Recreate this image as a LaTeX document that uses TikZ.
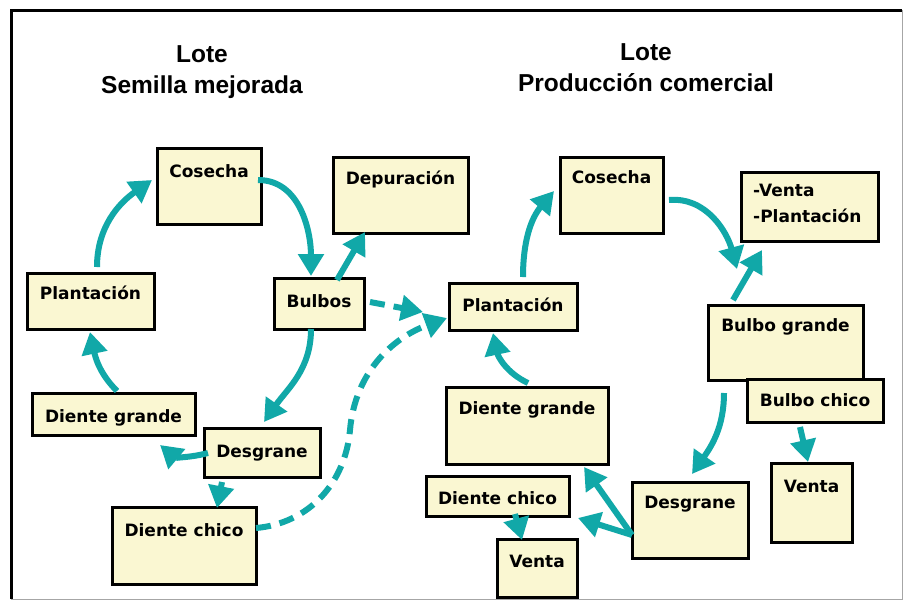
\documentclass[tikz,border=0pt]{standalone}
\usepackage{fontspec}
\setmainfont{DejaVu Sans}
\newfontfamily\titlefont{Liberation Sans}
\usetikzlibrary{arrows.meta,calc}
\definecolor{tealarrow}{RGB}{17,168,168}
\definecolor{boxfill}{RGB}{250,247,210}
\begin{document}
\begin{tikzpicture}[x=1pt,y=-1pt,
  box/.style={draw=black, line width=3pt, fill=boxfill, rectangle, anchor=north west, inner sep=0pt, outer sep=0pt},
  lbl/.style={font=\fontsize{17}{20}\selectfont\bfseries, anchor=base, inner sep=0pt},
  lblw/.style={lbl, anchor=base west},
  ttl/.style={font=\titlefont\fontsize{24.5}{28}\selectfont\bfseries, anchor=base, inner sep=0pt},
  arr/.style={draw=tealarrow, line width=6pt, -{Triangle[length=22pt,width=25pt]}},
  darr/.style={arr, dash pattern=on 15pt off 9pt},
]
\useasboundingbox (0,0) rectangle (903,600);
\fill[white] (0,0) rectangle (903,600);
% frame
\draw[line width=3pt] (11,599) -- (11,10) -- (902,10);
\draw[black!35, line width=1pt] (902,10) -- (902,599) -- (11,599);

% titles
\node[ttl] (t1a) at (202,62) {Lote};
\node[ttl] (t1b) at (202,93) {Semilla mejorada};
\node[ttl] (t2a) at (646,60) {Lote};
\node[ttl] (t2b) at (646,91) {Producción comercial};

% left boxes
\node[box, minimum width=104pt, minimum height=76pt] (cosL) at (157,148) {};
\node[box, minimum width=135pt, minimum height=76pt] (dep) at (333,157) {};
\node[box, minimum width=127pt, minimum height=56pt] (plL) at (27,273) {};
\node[box, minimum width=90pt, minimum height=51pt] (bulbos) at (274,278) {};
\node[box, minimum width=163pt, minimum height=42pt] (dgL) at (32,393) {};
\node[box, minimum width=116pt, minimum height=49pt] (desL) at (204,428) {};
\node[box, minimum width=144pt, minimum height=77pt] (dchL) at (112,507) {};

% right boxes
\node[box, minimum width=103pt, minimum height=76pt] (cosR) at (560,157) {};
\node[box, minimum width=137pt, minimum height=69pt] (vp) at (741,172) {};
\node[box, minimum width=128pt, minimum height=47pt] (plR) at (449,283) {};
\node[box, minimum width=155pt, minimum height=75pt] (bg) at (708,305) {};
\node[box, minimum width=136pt, minimum height=43pt] (bch) at (747,379) {};
\node[box, minimum width=162pt, minimum height=77pt] (dgR) at (446,387) {};
\node[box, minimum width=81pt, minimum height=79pt] (vR) at (771,463) {};
\node[box, minimum width=143pt, minimum height=40pt] (dchR) at (426,476) {};
\node[box, minimum width=116pt, minimum height=76pt] (desR) at (632,482) {};
\node[box, minimum width=80pt, minimum height=58pt] (vB) at (497,539) {};

% labels
\node[lbl] (cosLt) at ($(cosL.north)+(0,29)$) {Cosecha};
\node[lbl] (dept) at ($(dep.north)+(0,27)$) {Depuración};
\node[lbl] (plLt) at ($(plL.north)+(0,26)$) {Plantación};
\node[lbl] (bulbost) at ($(bulbos.north)+(0,29)$) {Bulbos};
\node[lbl] (dgLt) at ($(dgL.north)+(0,29)$) {Diente grande};
\node[lbl] (desLt) at ($(desL.north)+(0,29)$) {Desgrane};
\node[lbl] (dchLt) at ($(dchL.north)+(0,29)$) {Diente chico};
\node[lbl] (cosRt) at ($(cosR.north)+(0,26)$) {Cosecha};
\node[lblw] (vpt1) at ($(vp.north west)+(12,24)$) {-Venta};
\node[lblw] (vpt2) at ($(vp.north west)+(12,50)$) {-Plantación};
\node[lbl] (plRt) at ($(plR.north)+(0,28)$) {Plantación};
\node[lbl] (bgt) at ($(bg.north)+(0,26)$) {Bulbo grande};
\node[lbl] (bcht) at ($(bch.north)+(0,27)$) {Bulbo chico};
\node[lbl] (dgRt) at ($(dgR.north)+(0,27)$) {Diente grande};
\node[lbl] (vRt) at ($(vR.north)+(0,29)$) {Venta};
\node[lbl] (dchRt) at ($(dchR.north)+(0,28)$) {Diente chico};
\node[lbl] (desRt) at ($(desR.north)+(0,26)$) {Desgrane};
\node[lbl] (vBt) at ($(vB.north)+(0,28)$) {Venta};

% left cycle arrows
\draw[arr] ($(plL.north west)+(70,-6)$) to[out=90,in=215] ($(cosL.north west)+(-5,32)$);
\draw[arr] ($(cosL.north west)+(101,32)$) to[out=0,in=90] ($(bulbos.north west)+(37,-2)$);
\draw[arr] ($(bulbos.north west)+(63,2)$) -- ($(dep.north west)+(32,75)$);
\draw[darr] ($(bulbos.north west)+(96,24)$) -- ($(plR.north west)+(-26,29)$);
\draw[darr] ($(dchL.north west)+(144,21)$) to[out=5,in=-95] ($(dchL.north west)+(238,-77)$) to[out=85,in=200] ($(plR.north west)+(-2,35)$);
\draw[arr] ($(bulbos.north west)+(37,51)$) to[out=-90,in=55] ($(desL.north west)+(60,-6)$);
\draw[arr] ($(desL.north west)+(4,25)$) to[out=195,in=-40] ($(dgL.north west)+(128,52)$);
\draw[darr] ($(desL.north west)+(18,54)$) -- ($(dchL.north west)+(105,1)$);
\draw[arr] ($(dgL.north west)+(85,-2)$) to[out=135,in=-78] ($(plL.north west)+(63,59)$);

% right cycle arrows
\draw[arr] ($(plR.north west)+(74,-6)$) to[out=90,in=230] ($(cosR.north west)+(-6,34)$);
\draw[arr] ($(cosR.north west)+(109,43)$) to[out=5,in=105] ($(bg.north west)+(29,-36)$);
\draw[arr] ($(bg.north west)+(25,-5)$) -- ($(vp.north west)+(21,78)$);
\draw[arr] ($(bg.north west)+(16,88)$) to[out=-90,in=55] ($(desR.north west)+(60,-8)$);
\draw[darr] ($(bch.north west)+(53,48)$) -- ($(vR.north west)+(37,-1)$);
\draw[arr] ($(dgR.north west)+(82,-4)$) to[out=155,in=-78] ($(plR.north west)+(44,50)$);
\draw[arr] ($(desR.north west)+(0,53)$) -- ($(dgR.north west)+(138,80)$);
\draw[arr] ($(desR.north west)+(0,53)$) -- ($(dchR.north west)+(152,42)$);
\draw[darr] ($(dchR.north west)+(89,38)$) -- ($(vB.north west)+(25,1)$);
\end{tikzpicture}
\end{document}
